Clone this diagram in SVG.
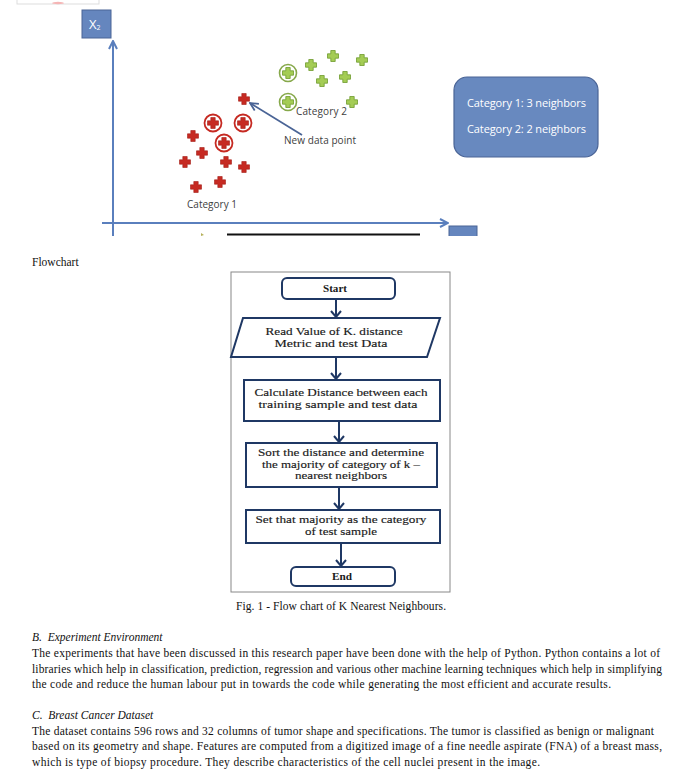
<svg xmlns="http://www.w3.org/2000/svg" width="686" height="775" viewBox="0 0 686 775">
<defs>
<style>
.axis{stroke:#5a7fbd;stroke-width:2;fill:none}
.lbl{font-family:"Open Sans","DejaVu Sans",sans-serif;font-size:10px;fill:#404040}
.wt{font-family:"Open Sans","DejaVu Sans",sans-serif;font-size:11px;fill:#ffffff}
.red{fill:#c62a22;stroke:#a51e18;stroke-width:0.6}
.grn{fill:#a4cc55;stroke:#6f9a2e;stroke-width:0.8}
.rc{fill:#ffffff;stroke:#c62a22;stroke-width:1.8}
.gc{fill:#ffffff;stroke:#86a84a;stroke-width:1.6}
.fbox{fill:#ffffff;stroke:#1f3864;stroke-width:2}
.ft{font-family:"Liberation Serif","Times New Roman",serif;font-size:11px;fill:#1a1a1a;stroke:#1a1a1a;stroke-width:0.15;text-anchor:middle}
.ftb{font-family:"Liberation Serif","Times New Roman",serif;font-size:10.5px;font-weight:bold;fill:#1a1a1a;text-anchor:middle}
.conn{stroke:#1f3864;stroke-width:2;fill:none}
.body{font-family:"Liberation Serif","Times New Roman",serif;font-size:11.5px;fill:#111111}
.it{font-family:"Liberation Serif","Times New Roman",serif;font-size:11.5px;font-style:italic;fill:#111111}
</style>
<path id="cross" d="M-2.2,-5.5 h4.4 v3.3 h3.3 v4.4 h-3.3 v3.3 h-4.4 v-3.3 h-3.3 v-4.4 h3.3 z"/>
<marker id="ax" viewBox="0 0 10 10" refX="9" refY="5" markerWidth="10" markerHeight="10" orient="auto" markerUnits="userSpaceOnUse">
<path d="M1,1 L9,5 L1,9" fill="none" stroke="#5a7fbd" stroke-width="2"/>
</marker>
<marker id="nd" viewBox="0 0 10 10" refX="9" refY="5" markerWidth="10" markerHeight="10" orient="auto" markerUnits="userSpaceOnUse">
<path d="M1,1 L9,5 L1,9" fill="none" stroke="#4a6496" stroke-width="1.8"/>
</marker>
</defs>
<rect width="686" height="775" fill="#ffffff"/>

<g id="remnant">
<rect x="17" y="-10" width="82" height="14" fill="none" stroke="#dddddd" stroke-width="1"/>
<ellipse cx="58" cy="3" rx="6" ry="1.2" fill="#f5b5b5"/>
</g>

<g id="chart">
<g id="x2-box">
<rect x="82" y="10" width="29" height="28" fill="#6586be" stroke="#4a6496" stroke-width="1"/>
<text x="89" y="29" class="wt" style="font-size:13px">X<tspan style="font-size:7px" dy="1">2</tspan></text>
</g>
<line x1="113" y1="236" x2="113" y2="41" class="axis" marker-end="url(#ax)"/>
<line x1="102" y1="223" x2="448" y2="223" class="axis" marker-end="url(#ax)"/>
<g id="x1-box">
<rect x="449" y="226" width="28" height="14" fill="#6586be" stroke="#4a6496" stroke-width="1"/>
</g>
<rect x="0" y="236" width="686" height="10" fill="#ffffff"/>
<line x1="227" y1="234.5" x2="420" y2="234.5" stroke="#111111" stroke-width="2"/>
<path d="M201,233 L204,235 L201,236 z" fill="#b5b05a"/>

<g id="cat1-points">
<use href="#cross" x="244" y="99" class="red"/>
<circle cx="213" cy="123" r="8.5" class="rc"/><use href="#cross" x="213" y="123" class="red"/>
<circle cx="243" cy="123" r="8.5" class="rc"/><use href="#cross" x="243" y="123" class="red"/>
<circle cx="224" cy="143" r="8.5" class="rc"/><use href="#cross" x="224" y="143" class="red"/>
<use href="#cross" x="193" y="136" class="red"/>
<use href="#cross" x="202" y="153" class="red"/>
<use href="#cross" x="185" y="162" class="red"/>
<use href="#cross" x="226" y="162" class="red"/>
<use href="#cross" x="244" y="167" class="red"/>
<use href="#cross" x="196" y="187" class="red"/>
<use href="#cross" x="220" y="182" class="red"/>
</g>
<g id="cat2-points">
<circle cx="288" cy="73" r="8.5" class="gc"/><use href="#cross" x="288" y="73" class="grn"/>
<circle cx="288" cy="102" r="8.5" class="gc"/><use href="#cross" x="288" y="102" class="grn"/>
<use href="#cross" x="311" y="65" class="grn"/>
<use href="#cross" x="333" y="56" class="grn"/>
<use href="#cross" x="362" y="60" class="grn"/>
<use href="#cross" x="322" y="81" class="grn"/>
<use href="#cross" x="345" y="77" class="grn"/>
<use href="#cross" x="352" y="102" class="grn"/>
</g>
<text x="296" y="115" class="lbl" textLength="51">Category 2</text>
<text x="284" y="144" class="lbl" textLength="72">New data point</text>
<text x="187" y="208" class="lbl" textLength="50">Category 1</text>
<line x1="302" y1="135" x2="250" y2="103" stroke="#4a6496" stroke-width="1.8" marker-end="url(#nd)"/>
</g>

<g id="legend-box">
<rect x="454" y="77" width="144" height="80" rx="13" fill="#6889bf" stroke="#4a6496" stroke-width="1.2"/>
<text x="467" y="107" class="wt" textLength="119">Category 1: 3 neighbors</text>
<text x="467" y="133" class="wt" textLength="119">Category 2: 2 neighbors</text>
</g>

<text x="32" y="266" class="body">Flowchart</text>

<rect x="231" y="272" width="219" height="320" fill="none" stroke="#888888" stroke-width="1"/>

<g id="connectors">
<path d="M336,299 V317 M331,311 L336,317 L341,311" class="conn"/>
<path d="M336,357 V379 M331,373 L336,379 L341,373" class="conn"/>
<path d="M339,421 V442 M334,436 L339,442 L344,436" class="conn"/>
<path d="M339,487 V509 M334,503 L339,509 L344,503" class="conn"/>
<path d="M341,543 V566 M336,560 L341,566 L346,560" class="conn"/>
</g>

<g id="start">
<rect x="282" y="278" width="113" height="21" rx="5" class="fbox"/>
<text x="335" y="292" class="ftb" textLength="24" lengthAdjust="spacingAndGlyphs">Start</text>
</g>
<g id="read-input">
<polygon points="243,318 440,318 427,357 231,357" class="fbox"/>
<text x="334" y="335" class="ft" textLength="137" lengthAdjust="spacingAndGlyphs">Read Value of K. distance</text>
<text x="331" y="347" class="ft" textLength="113" lengthAdjust="spacingAndGlyphs">Metric and test Data</text>
</g>
<g id="calc-distance">
<rect x="244" y="380" width="196" height="41" class="fbox"/>
<text x="341" y="396" class="ft" textLength="173" lengthAdjust="spacingAndGlyphs">Calculate Distance between each</text>
<text x="338" y="408" class="ft" textLength="159" lengthAdjust="spacingAndGlyphs">training sample and test data</text>
</g>
<g id="sort">
<rect x="246" y="443" width="191" height="44" class="fbox"/>
<text x="341" y="456" class="ft" textLength="166" lengthAdjust="spacingAndGlyphs">Sort the distance and determine</text>
<text x="341" y="467.5" class="ft" textLength="158" lengthAdjust="spacingAndGlyphs">the majority of category of k –</text>
<text x="341" y="479" class="ft" textLength="92" lengthAdjust="spacingAndGlyphs">nearest neighbors</text>
</g>
<g id="set-category">
<rect x="246" y="510" width="194" height="33" class="fbox"/>
<text x="341" y="523" class="ft" textLength="171" lengthAdjust="spacingAndGlyphs">Set that majority as the category</text>
<text x="341" y="535" class="ft" textLength="72" lengthAdjust="spacingAndGlyphs">of test sample</text>
</g>
<g id="end">
<rect x="291" y="567" width="104" height="19" rx="5" class="fbox"/>
<text x="342" y="580" class="ftb" textLength="20" lengthAdjust="spacingAndGlyphs">End</text>
</g>

<text x="236" y="610" class="body" textLength="210">Fig. 1 - Flow chart of K Nearest Neighbours.</text>

<text x="32" y="641" class="it" xml:space="preserve">B.  Experiment Environment</text>
<text x="32" y="657" class="body" textLength="628">The experiments that have been discussed in this research paper have been done with the help of Python. Python contains a lot of</text>
<text x="32" y="672.5" class="body" textLength="630">libraries which help in classification, prediction, regression and various other machine learning techniques which help in simplifying</text>
<text x="32" y="688" class="body" textLength="579">the code and reduce the human labour put in towards the code while generating the most efficient and accurate results.</text>

<text x="32" y="719" class="it" xml:space="preserve">C.  Breast Cancer Dataset</text>
<text x="32" y="734.5" class="body" textLength="622">The dataset contains 596 rows and 32 columns of tumor shape and specifications. The tumor is classified as benign or malignant</text>
<text x="32" y="750" class="body" textLength="630">based on its geometry and shape. Features are computed from a digitized image of a fine needle aspirate (FNA) of a breast mass,</text>
<text x="32" y="765.5" class="body" textLength="508">which is type of biopsy procedure. They describe characteristics of the cell nuclei present in the image.</text>
</svg>
